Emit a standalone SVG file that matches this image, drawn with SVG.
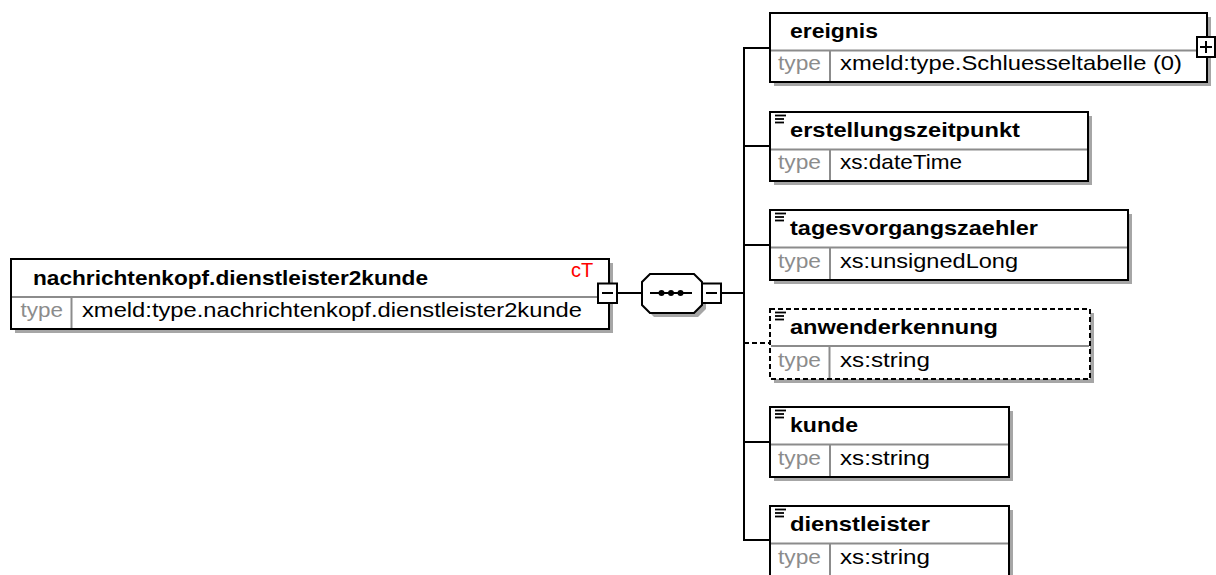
<svg xmlns="http://www.w3.org/2000/svg" width="1216" height="575" viewBox="0 0 1216 575">
<style>
.bg{fill:#fff}
.box{fill:#fff;stroke:#000;stroke-width:2}
.dbox{fill:#fff;stroke:#000;stroke-width:2;stroke-dasharray:5,3}
.sh{fill:#a6a6a6}
.div{stroke:#8c8c8c;stroke-width:2;fill:none}
.name{font-family:"Liberation Sans",Arial,sans-serif;font-weight:bold;font-size:21px;fill:#000}
.tl{font-family:"Liberation Sans",Arial,sans-serif;font-size:21px;fill:#8c8c8c}
.tv{font-family:"Liberation Sans",Arial,sans-serif;font-size:21px;fill:#000}
.ct{font-family:"Liberation Sans",Arial,sans-serif;font-size:20px;fill:#f00}
.ln{stroke:#000;stroke-width:2;fill:none}
.dl{stroke:#000;stroke-width:2;fill:none;stroke-dasharray:5,3}
.ic{stroke:#000;stroke-width:1.8}
.pm{stroke:#000;stroke-width:2}
.btn{fill:#fff;stroke:#000;stroke-width:2}
</style>
<rect class="bg" x="0" y="0" width="1216" height="575"/>
<g id="connectors">
<line class="ln" x1="617" y1="293" x2="642" y2="293"/>
<line class="ln" x1="721" y1="293" x2="744" y2="293"/>
<line class="ln" x1="744" y1="47" x2="744" y2="541"/>
<line class="ln" x1="743" y1="48" x2="770" y2="48"/>
<line class="ln" x1="744" y1="146" x2="770" y2="146"/>
<line class="ln" x1="744" y1="245" x2="770" y2="245"/>
<line class="dl" x1="744" y1="343" x2="770" y2="343"/>
<line class="ln" x1="744" y1="442" x2="770" y2="442"/>
<line class="ln" x1="743" y1="540" x2="770" y2="540"/>
</g>
<g id="root">
<rect class="sh" x="15" y="263" width="598" height="70"/>
<rect class="box" x="11" y="259" width="598" height="70"/>
<line class="div" x1="12" y1="297" x2="608" y2="297"/>
<line class="div" x1="71.5" y1="298" x2="71.5" y2="328"/>
<text class="name" x="33" y="285" textLength="395" lengthAdjust="spacingAndGlyphs">nachrichtenkopf.dienstleister2kunde</text>
<text class="ct" x="571" y="277">cT</text>
<text class="tl" x="20.5" y="317" textLength="42.5" lengthAdjust="spacingAndGlyphs">type</text>
<text class="tv" x="82" y="317" textLength="500" lengthAdjust="spacingAndGlyphs">xmeld:type.nachrichtenkopf.dienstleister2kunde</text>
<rect class="btn" x="598" y="283.5" width="19" height="19.5"/>
<line class="pm" x1="602" y1="293" x2="613" y2="293"/>
</g>
<g id="sequence">
<polygon class="sh" points="654,278 698,278 706,286 706,309 698,317 654,317 646,309 646,286"/>
<polygon class="box" points="650,274 694,274 702,282 702,305 694,313 650,313 642,305 642,282"/>
<line class="ln" x1="650" y1="293" x2="692" y2="293"/>
<circle cx="661.5" cy="293" r="3"/>
<circle cx="671" cy="293" r="3"/>
<circle cx="680.5" cy="293" r="3"/>
<rect class="btn" x="702" y="283.5" width="19" height="19.5"/>
<line class="pm" x1="706" y1="293" x2="717" y2="293"/>
</g>
<g id="ereignis">
<rect class="sh" x="774" y="17" width="437" height="69"/>
<rect class="box" x="770" y="13" width="437" height="69"/>
<line class="div" x1="771" y1="50.5" x2="1206" y2="50.5"/>
<line class="div" x1="830" y1="51" x2="830" y2="81"/>
<text class="name" x="790" y="38" textLength="88" lengthAdjust="spacingAndGlyphs">ereignis</text>
<text class="tl" x="778" y="70" textLength="43" lengthAdjust="spacingAndGlyphs">type</text>
<text class="tv" x="840" y="70" textLength="342" lengthAdjust="spacingAndGlyphs">xmeld:type.Schluesseltabelle (0)</text>
<rect class="btn" x="1197" y="37" width="18" height="20"/>
<line class="pm" x1="1200" y1="47" x2="1212" y2="47"/>
<line class="pm" x1="1206" y1="41" x2="1206" y2="53"/>
</g>
<g id="erstellungszeitpunkt">
<rect class="sh" x="774" y="116" width="318" height="69"/>
<rect class="box" x="770" y="112" width="318" height="69"/>
<line class="div" x1="771" y1="149.5" x2="1087" y2="149.5"/>
<line class="div" x1="830" y1="150" x2="830" y2="180"/>
<line class="ic" x1="775" y1="115.5" x2="786" y2="115.5"/>
<line class="ic" x1="775" y1="119" x2="784" y2="119"/>
<line class="ic" x1="775" y1="122.5" x2="784" y2="122.5"/>
<text class="name" x="790" y="137" textLength="230" lengthAdjust="spacingAndGlyphs">erstellungszeitpunkt</text>
<text class="tl" x="778" y="169" textLength="43" lengthAdjust="spacingAndGlyphs">type</text>
<text class="tv" x="840" y="169" textLength="122" lengthAdjust="spacingAndGlyphs">xs:dateTime</text>
</g>
<g id="tagesvorgangszaehler">
<rect class="sh" x="774" y="214" width="358" height="70"/>
<rect class="box" x="770" y="210" width="358" height="70"/>
<line class="div" x1="771" y1="247.5" x2="1127" y2="247.5"/>
<line class="div" x1="830" y1="248" x2="830" y2="279"/>
<line class="ic" x1="775" y1="213.5" x2="786" y2="213.5"/>
<line class="ic" x1="775" y1="217" x2="784" y2="217"/>
<line class="ic" x1="775" y1="220.5" x2="784" y2="220.5"/>
<text class="name" x="790" y="235" textLength="248" lengthAdjust="spacingAndGlyphs">tagesvorgangszaehler</text>
<text class="tl" x="778" y="268" textLength="43" lengthAdjust="spacingAndGlyphs">type</text>
<text class="tv" x="840" y="268" textLength="178" lengthAdjust="spacingAndGlyphs">xs:unsignedLong</text>
</g>
<g id="anwenderkennung">
<rect class="sh" x="774" y="313" width="320" height="70"/>
<rect class="dbox" x="770" y="309" width="320" height="70"/>
<line class="div" x1="771" y1="346" x2="1089" y2="346"/>
<line class="div" x1="829.5" y1="347" x2="829.5" y2="378"/>
<line class="ic" x1="775" y1="312.5" x2="786" y2="312.5"/>
<line class="ic" x1="775" y1="316" x2="784" y2="316"/>
<line class="ic" x1="775" y1="319.5" x2="784" y2="319.5"/>
<text class="name" x="790" y="334" textLength="208" lengthAdjust="spacingAndGlyphs">anwenderkennung</text>
<text class="tl" x="778" y="367" textLength="43" lengthAdjust="spacingAndGlyphs">type</text>
<text class="tv" x="840" y="367" textLength="90" lengthAdjust="spacingAndGlyphs">xs:string</text>
</g>
<g id="kunde">
<rect class="sh" x="774" y="411" width="239" height="70"/>
<rect class="box" x="770" y="407" width="239" height="70"/>
<line class="div" x1="771" y1="444.5" x2="1008" y2="444.5"/>
<line class="div" x1="830" y1="445" x2="830" y2="476"/>
<line class="ic" x1="775" y1="410.5" x2="786" y2="410.5"/>
<line class="ic" x1="775" y1="414" x2="784" y2="414"/>
<line class="ic" x1="775" y1="417.5" x2="784" y2="417.5"/>
<text class="name" x="790" y="432" textLength="68" lengthAdjust="spacingAndGlyphs">kunde</text>
<text class="tl" x="778" y="465" textLength="43" lengthAdjust="spacingAndGlyphs">type</text>
<text class="tv" x="840" y="465" textLength="90" lengthAdjust="spacingAndGlyphs">xs:string</text>
</g>
<g id="dienstleister">
<rect class="sh" x="774" y="510" width="239" height="70"/>
<rect class="box" x="770" y="506" width="239" height="70"/>
<line class="div" x1="771" y1="543.5" x2="1008" y2="543.5"/>
<line class="div" x1="830" y1="544" x2="830" y2="575"/>
<line class="ic" x1="775" y1="509.5" x2="786" y2="509.5"/>
<line class="ic" x1="775" y1="513" x2="784" y2="513"/>
<line class="ic" x1="775" y1="516.5" x2="784" y2="516.5"/>
<text class="name" x="790" y="531" textLength="140" lengthAdjust="spacingAndGlyphs">dienstleister</text>
<text class="tl" x="778" y="564" textLength="43" lengthAdjust="spacingAndGlyphs">type</text>
<text class="tv" x="840" y="564" textLength="90" lengthAdjust="spacingAndGlyphs">xs:string</text>
</g>
</svg>
